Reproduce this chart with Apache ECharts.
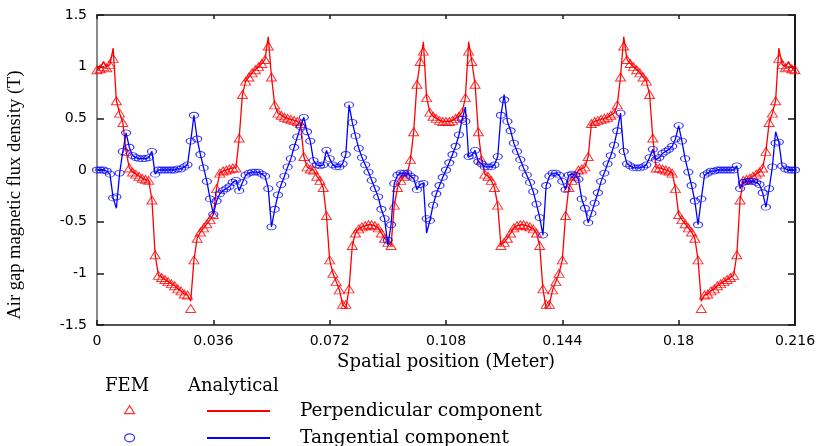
<!DOCTYPE html>
<html>
<head>
<meta charset="utf-8">
<script src="https://cdn.jsdelivr.net/npm/echarts@6/dist/echarts.min.js"></script>
<style>
html,body{margin:0;padding:0;background:#fff;}
#chart{width:821px;height:446px;}
</style>
</head>
<body>
<div id="chart"></div>
<script>
// Spatial sampling positions in millimetres (0 ... 216 mm)
const positionMm = [0,1,2,3,4,5,6,7,8,9,10,11,12,13,14,15,16,17,18,19,20,21,22,23,24,25,26,27,28,29,30,31,32,33,34,35,36,37,38,39,40,41,42,43,44,45,46,47,48,49,50,51,52,53,54,55,56,57,58,59,60,61,62,63,64,65,66,67,68,69,70,71,72,73,74,75,76,77,78,79,80,81,82,83,84,85,86,87,88,89,90,91,92,93,94,95,96,97,98,99,100,101,102,103,104,105,106,107,108,109,110,111,112,113,114,115,116,117,118,119,120,121,122,123,124,125,126,127,128,129,130,131,132,133,134,135,136,137,138,139,140,141,142,143,144,145,146,147,148,149,150,151,152,153,154,155,156,157,158,159,160,161,162,163,164,165,166,167,168,169,170,171,172,173,174,175,176,177,178,179,180,181,182,183,184,185,186,187,188,189,190,191,192,193,194,195,196,197,198,199,200,201,202,203,204,205,206,207,208,209,210,211,212,213,214,215,216];

// Perpendicular component, FEM
const perpFem = [
0.97,0.98,1.0,0.99,1.02,1.08,0.67,0.55,0.46,0.18,
0.02,-0.02,-0.04,-0.06,-0.08,-0.09,-0.1,-0.29,-0.82,-1.02,
-1.04,-1.06,-1.08,-1.1,-1.12,-1.15,-1.17,-1.2,-1.21,-1.34,
-0.87,-0.66,-0.6,-0.56,-0.52,-0.48,-0.43,-0.18,-0.03,-0.01,
0.0,0.01,0.02,0.02,0.31,0.73,0.86,0.9,0.94,0.97,
1.0,1.03,1.07,1.2,0.9,0.63,0.55,0.53,0.51,0.5,
0.49,0.48,0.47,0.45,0.13,0.03,0.01,0.0,-0.06,-0.1,
-0.17,-0.44,-0.87,-1.0,-1.08,-1.16,-1.3,-1.3,-1.15,-0.73,
-0.61,-0.57,-0.55,-0.54,-0.53,-0.53,-0.54,-0.56,-0.61,-0.66,
-0.7,-0.73,-0.34,-0.17,-0.1,-0.06,-0.04,0.1,0.37,0.83,
1.05,1.15,0.7,0.56,0.52,0.5,0.48,0.47,0.47,
0.47,0.48,0.5,0.52,0.56,0.7,1.15,1.05,0.83,0.37,
0.1,-0.04,-0.06,-0.1,-0.17,-0.34,-0.73,-0.7,-0.66,-0.61,
-0.56,-0.54,-0.53,-0.53,-0.54,-0.55,-0.57,-0.61,-0.73,-1.15,
-1.3,-1.3,-1.16,-1.08,-1.0,-0.87,-0.44,-0.17,-0.1,-0.06,
0.0,0.01,0.03,0.13,0.45,0.47,0.48,0.49,0.5,0.51,
0.53,0.55,0.63,0.9,1.2,1.07,1.03,1.0,0.97,0.94,
0.9,0.86,0.73,0.31,0.02,0.02,0.01,0.0,-0.01,-0.03,
-0.18,-0.43,-0.48,-0.52,-0.56,-0.6,-0.66,-0.87,-1.34,-1.21,
-1.2,-1.17,-1.15,-1.12,-1.1,-1.08,-1.06,-1.04,-1.02,-0.82,
-0.29,-0.1,-0.09,-0.08,-0.06,-0.04,-0.02,0.02,0.18,0.46,
0.55,0.67,1.08,1.02,0.99,1.0,0.98,0.97];

// Perpendicular component, analytical
const perpAnalytical = [
0.97,0.99,1.05,1.0,1.02,1.18,0.67,0.55,0.46,0.18,
0.02,-0.02,-0.04,-0.06,-0.08,-0.09,-0.1,-0.29,-0.82,-1.02,
-1.04,-1.06,-1.08,-1.1,-1.12,-1.15,-1.17,-1.2,-1.21,-1.27,
-0.87,-0.66,-0.6,-0.56,-0.52,-0.48,-0.43,-0.18,-0.03,-0.01,
0.0,0.01,0.02,0.02,0.31,0.73,0.86,0.9,0.94,0.97,
1.0,1.03,1.07,1.29,0.9,0.63,0.55,0.53,0.51,0.5,
0.49,0.48,0.47,0.45,0.13,0.03,0.01,0.0,-0.06,-0.1,
-0.17,-0.44,-0.87,-1.0,-1.08,-1.16,-1.3,-1.34,-1.15,-0.73,
-0.61,-0.57,-0.55,-0.54,-0.53,-0.53,-0.54,-0.56,-0.61,-0.66,
-0.7,-0.73,-0.34,-0.17,-0.1,-0.06,-0.04,0.1,0.37,0.83,
1.05,1.24,0.7,0.56,0.52,0.5,0.48,0.47,0.47,
0.47,0.48,0.5,0.52,0.56,0.7,1.24,1.05,0.83,0.37,
0.1,-0.04,-0.06,-0.1,-0.17,-0.34,-0.73,-0.7,-0.66,-0.61,
-0.56,-0.54,-0.53,-0.53,-0.54,-0.55,-0.57,-0.61,-0.73,-1.15,
-1.34,-1.3,-1.16,-1.08,-1.0,-0.87,-0.44,-0.17,-0.1,-0.06,
0.0,0.01,0.03,0.13,0.45,0.47,0.48,0.49,0.5,0.51,
0.53,0.55,0.63,0.9,1.29,1.07,1.03,1.0,0.97,0.94,
0.9,0.86,0.73,0.31,0.02,0.02,0.01,0.0,-0.01,-0.03,
-0.18,-0.43,-0.48,-0.52,-0.56,-0.6,-0.66,-0.87,-1.27,-1.21,
-1.2,-1.17,-1.15,-1.12,-1.1,-1.08,-1.06,-1.04,-1.02,-0.82,
-0.29,-0.1,-0.09,-0.08,-0.06,-0.04,-0.02,0.02,0.18,0.46,
0.55,0.67,1.18,1.02,1.0,1.05,0.99,0.97];

// Tangential component, FEM
const tanFem = [
0.0,0.0,0.0,-0.01,-0.04,-0.27,-0.26,-0.03,0.18,0.36,
0.22,0.14,0.12,0.11,0.11,0.11,0.12,0.18,-0.04,0.0,
0.0,0.0,0.0,0.0,0.0,0.01,0.01,0.03,0.05,0.28,
0.53,0.3,0.15,0.02,-0.11,-0.28,-0.43,-0.3,-0.23,-0.2,
-0.18,-0.16,-0.12,-0.1,-0.2,-0.12,-0.05,-0.03,-0.02,-0.02,
-0.02,-0.04,-0.06,-0.18,-0.55,-0.38,-0.24,-0.14,-0.06,0.03,
0.11,0.22,0.32,0.42,0.51,0.37,0.28,0.09,0.05,0.04,
0.05,0.19,0.11,0.05,0.03,0.03,0.06,0.15,0.63,0.46,
0.33,0.21,0.12,0.05,-0.02,-0.1,-0.18,-0.26,-0.38,-0.47,
-0.68,-0.53,-0.13,-0.05,-0.03,-0.03,-0.03,-0.06,-0.08,-0.19,
-0.14,-0.13,-0.47,-0.49,-0.34,-0.23,-0.15,-0.07,0.0,
0.07,0.15,0.23,0.34,0.49,0.47,0.13,0.14,0.19,0.08,
0.06,0.03,0.03,0.03,0.05,0.13,0.53,0.68,0.47,0.38,
0.26,0.18,0.1,0.02,-0.05,-0.12,-0.21,-0.33,-0.46,-0.63,
-0.15,-0.06,-0.03,-0.03,-0.05,-0.11,-0.19,-0.05,-0.04,-0.05,
-0.09,-0.28,-0.37,-0.51,-0.42,-0.32,-0.22,-0.11,-0.03,0.06,
0.14,0.24,0.38,0.55,0.18,0.06,0.04,0.02,0.02,0.02,
0.03,0.05,0.12,0.2,0.1,0.12,0.16,0.18,0.2,0.23,
0.3,0.43,0.28,0.11,-0.02,-0.15,-0.3,-0.53,-0.28,-0.05,
-0.03,-0.01,-0.01,0.0,0.0,0.0,0.0,0.0,0.0,0.04,
-0.18,-0.12,-0.11,-0.11,-0.11,-0.12,-0.14,-0.22,-0.36,-0.18,
0.03,0.26,0.27,0.04,0.01,0.0,0.0,0.0];

// Tangential component, analytical
const tanAnalytical = [
0.0,0.0,0.0,-0.01,-0.04,-0.27,-0.37,-0.03,0.18,0.36,
0.22,0.14,0.12,0.11,0.11,0.11,0.12,0.18,-0.04,0.0,
0.0,0.0,0.0,0.0,0.0,0.01,0.01,0.03,0.05,0.28,
0.53,0.3,0.15,0.02,-0.11,-0.28,-0.43,-0.3,-0.23,-0.2,
-0.18,-0.16,-0.12,-0.1,-0.2,-0.12,-0.05,-0.03,-0.02,-0.02,
-0.02,-0.04,-0.06,-0.18,-0.55,-0.38,-0.24,-0.14,-0.06,0.03,
0.11,0.22,0.32,0.42,0.51,0.37,0.28,0.09,0.05,0.04,
0.05,0.19,0.11,0.05,0.03,0.03,0.06,0.15,0.63,0.46,
0.33,0.21,0.12,0.05,-0.02,-0.1,-0.18,-0.26,-0.38,-0.47,
-0.73,-0.53,-0.13,-0.05,-0.03,-0.03,-0.03,-0.06,-0.08,-0.19,
-0.14,-0.13,-0.61,-0.49,-0.34,-0.23,-0.15,-0.07,0.0,
0.07,0.15,0.23,0.34,0.49,0.61,0.13,0.14,0.19,0.08,
0.06,0.03,0.03,0.03,0.05,0.13,0.53,0.73,0.47,0.38,
0.26,0.18,0.1,0.02,-0.05,-0.12,-0.21,-0.33,-0.46,-0.63,
-0.15,-0.06,-0.03,-0.03,-0.05,-0.11,-0.19,-0.05,-0.04,-0.05,
-0.09,-0.28,-0.37,-0.51,-0.42,-0.32,-0.22,-0.11,-0.03,0.06,
0.14,0.24,0.38,0.55,0.18,0.06,0.04,0.02,0.02,0.02,
0.03,0.05,0.12,0.2,0.1,0.12,0.16,0.18,0.2,0.23,
0.3,0.43,0.28,0.11,-0.02,-0.15,-0.3,-0.53,-0.28,-0.05,
-0.03,-0.01,-0.01,0.0,0.0,0.0,0.0,0.0,0.0,0.04,
-0.18,-0.12,-0.11,-0.11,-0.11,-0.12,-0.14,-0.22,-0.36,-0.18,
0.03,0.37,0.27,0.04,0.01,0.0,0.0,0.0];

const xTickLabels = ['0','0.036','0.072','0.108','0.144','0.18','0.216'];
const yTickLabels = ['-1.5','-1','-0.5','0','0.5','1','1.5'];

const pair = (ys) => positionMm.map((mm, i) => [mm / 1000, ys[i]]);

const RED = '#ff0000';
const BLUE = '#0000ff';
const triPath = 'path://M5,0 L10,8 L0,8 Z';
const ellPath = 'path://M0,4 A5,4 0 1 1 10,4 A5,4 0 1 1 0,4 Z';
const serif = '"Liberation Serif", "DejaVu Serif", serif';
const wideSerif = '"DejaVu Serif", "Liberation Serif", serif';
const sans = '"DejaVu Sans", "Liberation Sans", sans-serif';

const chart = echarts.init(document.getElementById('chart'), null, {renderer: 'canvas'});

const xBase = {
  type: 'value', min: 0, max: 0.216, interval: 0.036,
  splitLine: {show: false}
};
const yBase = {
  type: 'value', min: -1.5, max: 1.5, interval: 0.5,
  splitLine: {show: false}
};

chart.setOption({
  animation: false,
  backgroundColor: '#ffffff',
  grid: {left: 97, right: 26, top: 15, bottom: 121, containLabel: false, outerBoundsMode: 'none'},
  xAxis: [
    Object.assign({}, xBase, {
      position: 'bottom',
      axisLine: {show: true, onZero: false, lineStyle: {color: '#1a1a1a', width: 1.5}},
      axisTick: {show: true, inside: true, length: 5, lineStyle: {color: '#1a1a1a', width: 1.5}},
      axisLabel: {
        margin: 9, color: '#000', fontFamily: sans, fontSize: 14,
        formatter: (v) => xTickLabels[Math.round(v / 0.036)]
      },
      name: 'Spatial position (Meter)', nameLocation: 'middle', nameGap: 26,
      nameTextStyle: {fontFamily: wideSerif, fontSize: 18, color: '#000'}
    }),
    Object.assign({}, xBase, {
      position: 'top',
      axisLine: {show: true, onZero: false, lineStyle: {color: '#1a1a1a', width: 1.5}},
      axisTick: {show: true, inside: true, length: 4, lineStyle: {color: '#1a1a1a', width: 1.5}},
      axisLabel: {show: false}
    })
  ],
  yAxis: [
    Object.assign({}, yBase, {
      position: 'left',
      axisLine: {show: true, onZero: false, lineStyle: {color: '#8a8a8a', width: 2}},
      axisTick: {show: true, inside: true, length: 7, lineStyle: {color: '#1a1a1a', width: 1.5}},
      axisLabel: {
        margin: 10, color: '#000', fontFamily: sans, fontSize: 14,
        formatter: (v) => yTickLabels[Math.round((v + 1.5) / 0.5)]
      },
      name: 'Air gap magnetic flux density (T)', nameLocation: 'middle', nameGap: 72,
      nameTextStyle: {fontFamily: serif, fontSize: 18.5, color: '#000', padding: [0, 50, 0, 0]}
    }),
    Object.assign({}, yBase, {
      position: 'right',
      axisLine: {show: true, onZero: false, lineStyle: {color: '#1a1a1a', width: 2}},
      axisTick: {show: true, inside: true, length: 7, lineStyle: {color: '#1a1a1a', width: 1.5}},
      axisLabel: {show: false}
    })
  ],
  legend: [
    {
      id: 'fem', orient: 'vertical', left: 124, top: 405, height: 80, padding: 0,
      itemWidth: 13, itemHeight: 8, itemGap: 19,
      selectedMode: false,
      formatter: () => '',
      textStyle: {fontSize: 8, lineHeight: 8},
      data: [
        {name: 'FEM perpendicular', icon: triPath, itemStyle: {color: 'rgba(255,0,0,0)', borderColor: RED, borderWidth: 1.2}},
        {name: 'FEM tangential', icon: ellPath, itemStyle: {color: 'rgba(0,0,255,0)', borderColor: BLUE, borderWidth: 1.2}}
      ]
    },
    {
      id: 'analytical', orient: 'vertical', left: 207, top: 401, height: 80, padding: 0,
      itemWidth: 63, itemHeight: 2, itemGap: 7,
      selectedMode: false,
      icon: 'rect',
      textStyle: {fontFamily: wideSerif, fontSize: 18.5, lineHeight: 20, color: '#000', padding: [0, 0, 0, 25]},
      data: ['Perpendicular component', 'Tangential component']
    }
  ],
  graphic: [
    {type: 'text', left: 105, top: 377, style: {text: 'FEM', font: '18px ' + wideSerif, fill: '#000'}},
    {type: 'text', left: 188, top: 377, style: {text: 'Analytical', font: '18px ' + wideSerif, fill: '#000'}}
  ],
  series: [
    {
      name: 'Perpendicular component', type: 'line', data: pair(perpAnalytical),
      showSymbol: false, symbol: 'none', lineStyle: {color: RED, width: 1.3}, itemStyle: {color: RED},
      z: 2
    },
    {
      name: 'FEM perpendicular', type: 'scatter', data: pair(perpFem),
      symbol: 'triangle', symbolSize: [10, 8],
      itemStyle: {color: 'rgba(255,0,0,0)', borderColor: RED, borderWidth: 1},
      z: 3
    },
    {
      name: 'Tangential component', type: 'line', data: pair(tanAnalytical),
      showSymbol: false, symbol: 'none', lineStyle: {color: BLUE, width: 1.3}, itemStyle: {color: BLUE},
      z: 4
    },
    {
      name: 'FEM tangential', type: 'scatter', data: pair(tanFem),
      symbol: ellPath, symbolSize: [9, 6],
      itemStyle: {color: 'rgba(0,0,255,0)', borderColor: BLUE, borderWidth: 1},
      z: 5
    }
  ]
});
</script>
</body>
</html>
